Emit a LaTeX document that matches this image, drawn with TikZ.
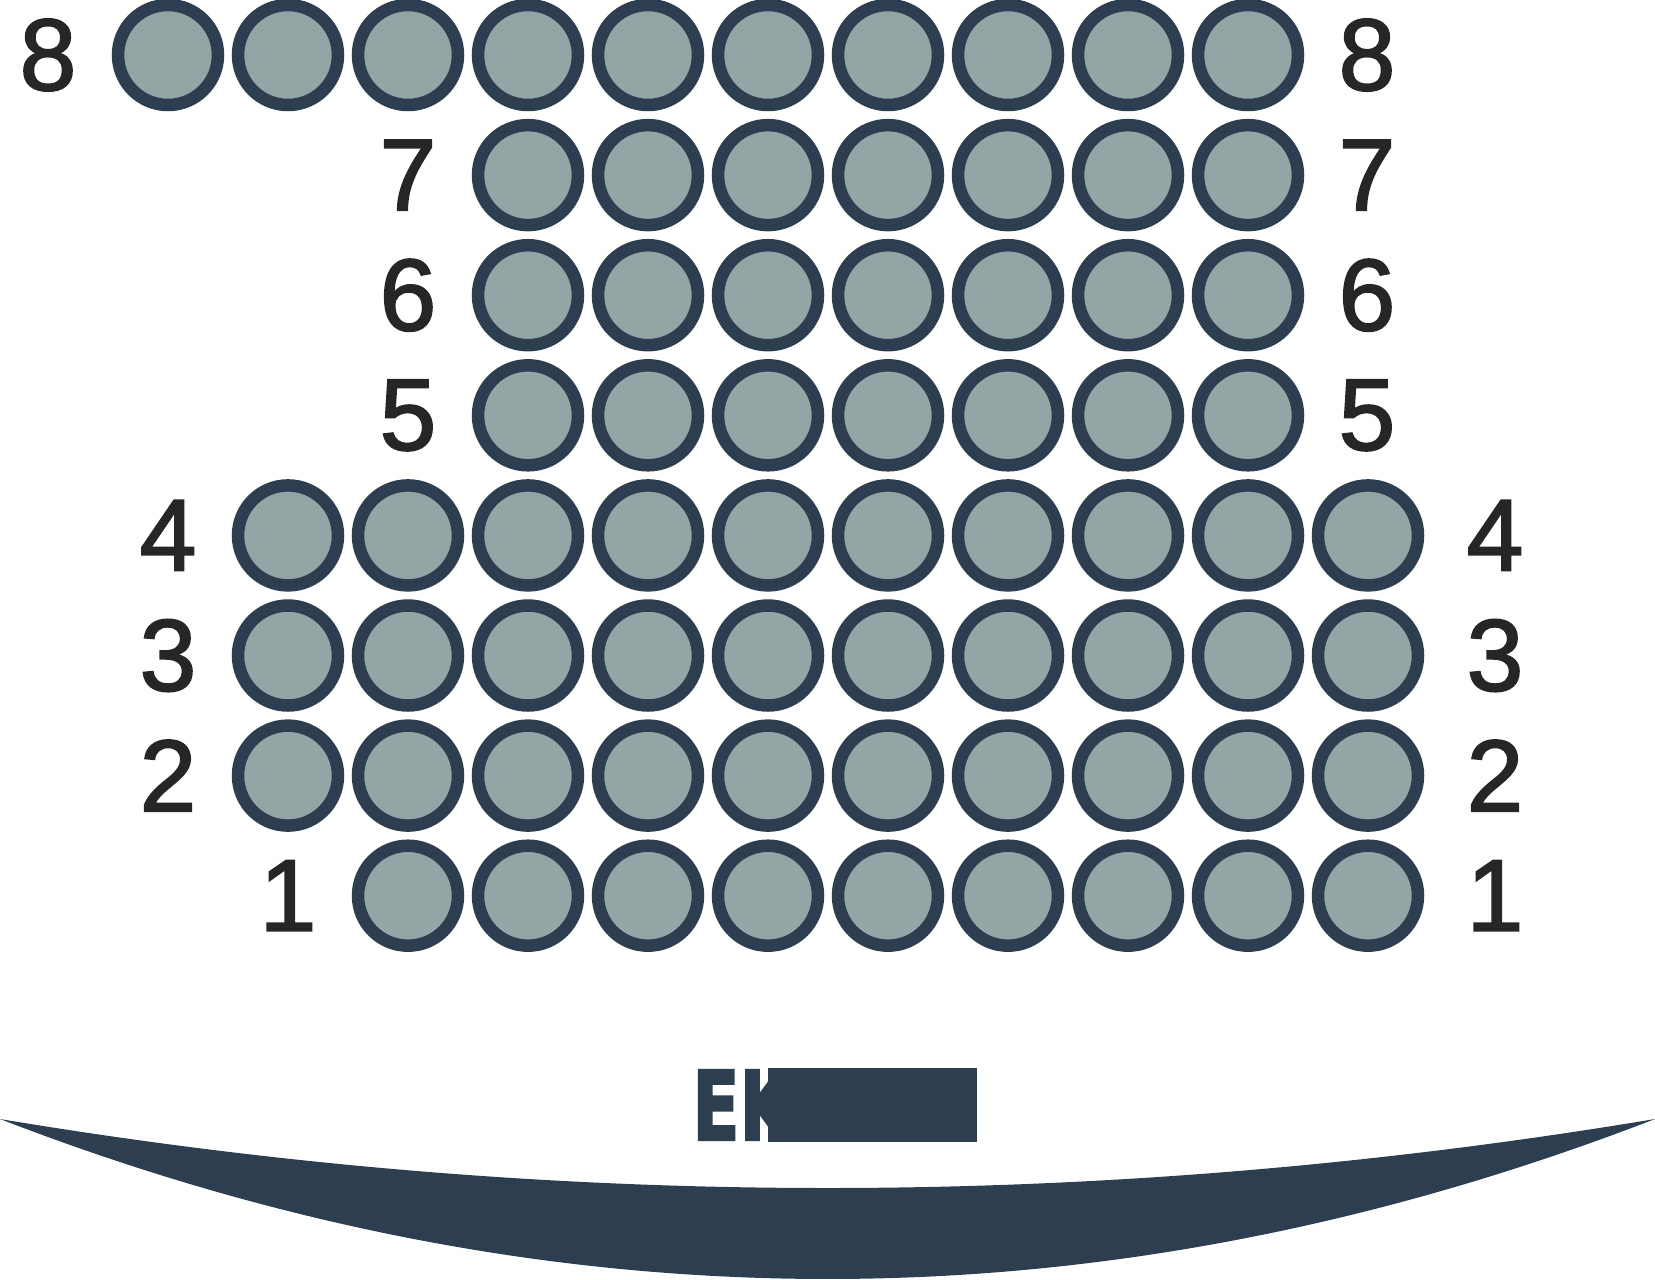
\documentclass[tikz,border=0pt]{standalone}
\usepackage{fontspec}
\setmainfont{Liberation Sans}
\newfontfamily\numfont[FakeBold=1.8]{Liberation Sans}
\newfontfamily\screenfont[FakeBold=2.5]{DejaVu Sans Bold}
\usetikzlibrary{positioning}

\definecolor{seatline}{HTML}{2C3E50}
\definecolor{seatfill}{HTML}{95A5A6}
\definecolor{numcol}{HTML}{262626}

\begin{document}
\begin{tikzpicture}[
        x=0.5pt, y=-0.5pt,
        seat/.style={circle, draw=seatline, fill=seatfill, line width=6.25pt, minimum size=50pt, inner sep=0pt},
        rownum/.style={text=numcol, inner sep=0pt, font=\numfont\fontsize{51}{51}\selectfont},
        screenfill/.style={fill=seatline}
    ]
        \useasboundingbox (0,0) rectangle (1655,1280);

        % --- seats: row / first column / last column / right label offset ---
        \foreach \r/\first/\last/\roff in {8/0/9/119, 7/3/9/119, 6/3/9/119, 5/3/9/119,
                                           4/1/10/127, 3/1/10/127, 2/1/10/127, 1/2/10/127} {
            \foreach \c in {\first,...,\last} {
                \node[seat] (seat-\r-\c) at ({168+120*\c}, {55+120.1*(8-\r)}) {};
            }
            % row numbers on both sides
            \node[rownum] (num-\r-l) at ({168+120*\first-120}, {55+120.1*(8-\r)}) {\r};
            \node[rownum] (num-\r-r) at ({168+120*\last+\roff}, {55+120.1*(8-\r)}) {\r};
        }

        % --- screen ---
        \fill[screenfill] (0,1119) .. controls (551.7,1211) and (1103.3,1211) .. (1655,1119)
            .. controls (1103.3,1332.3) and (551.7,1332.3) .. (0,1119) -- cycle;

        % label, partly hidden under a block
        \node[anchor=base west, inner sep=0pt, text=seatline,
              font=\screenfont\fontsize{48}{48}\selectfont] (ekran) at (692,1140)
            {\scalebox{0.72}[1]{EK}};
        \node[screenfill, inner sep=0pt, minimum width=104.5pt, minimum height=37pt] (ekranbox) at (872.5,1105) {};

    \end{tikzpicture}
\end{document}
